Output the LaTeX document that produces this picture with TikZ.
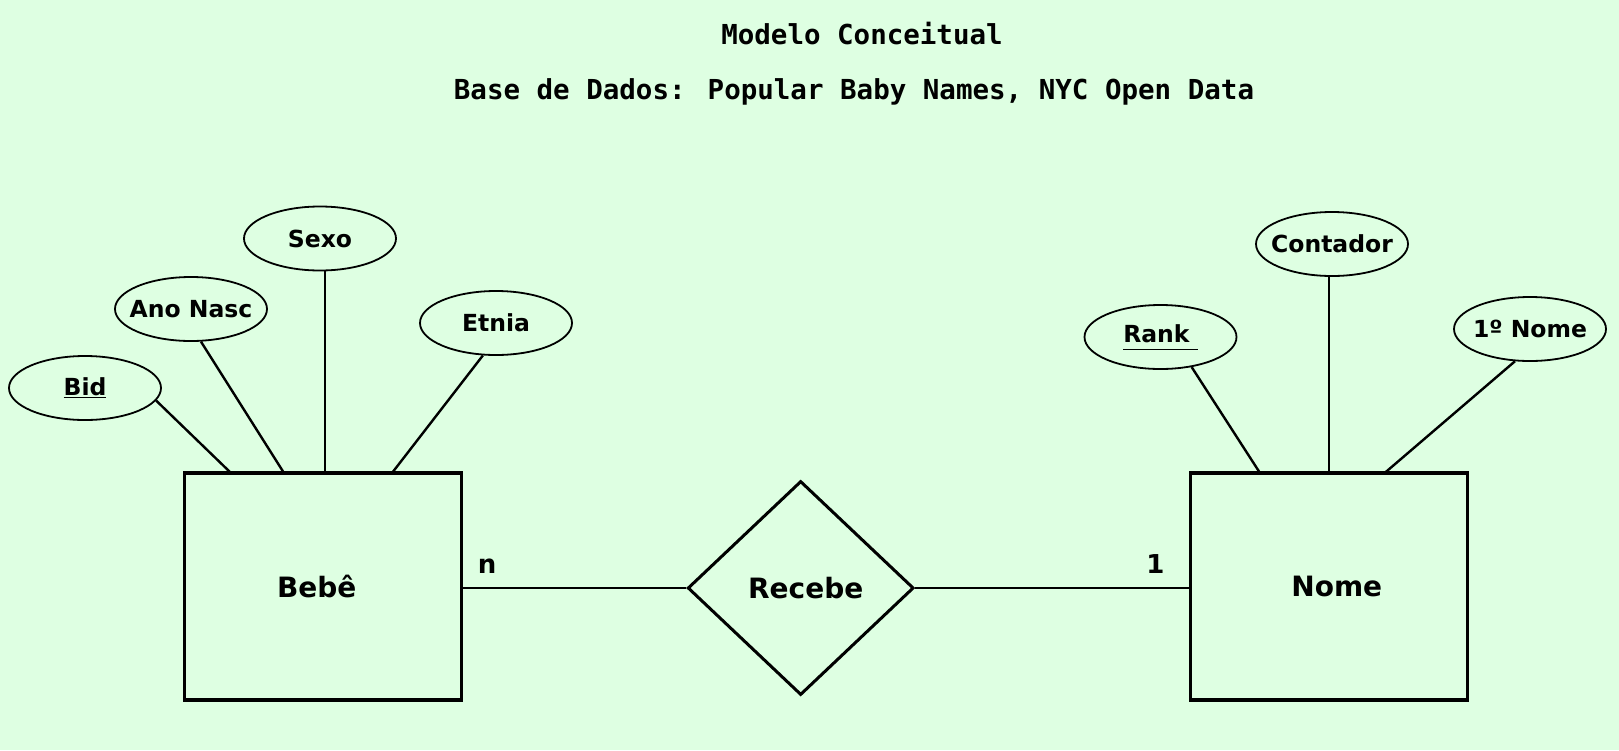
\documentclass[tikz,border=0pt]{standalone}
\usepackage{fontspec}
\setmainfont{DejaVu Sans}
\newfontfamily\titlefont{DejaVu Sans Mono}
\usetikzlibrary{shapes.geometric,calc}
\definecolor{bg}{RGB}{222,255,226}
\tikzset{
  attr/.style={ellipse, draw, line width=1.8pt, minimum width=152pt, minimum height=64pt, inner xsep=-14pt, inner ysep=0pt, font=\bfseries\fontsize{23.5}{28}\selectfont},
  entity/.style={rectangle, draw, line width=3.2pt, minimum width=277pt, minimum height=227pt, inner sep=0pt},
  elabel/.style={font=\bfseries\fontsize{28}{32}\selectfont},
  rel/.style={diamond, draw, line width=3pt, minimum width=226pt, minimum height=214pt, inner sep=0pt},
  conn/.style={line width=2.4pt},
  card/.style={font=\bfseries\fontsize{26}{30}\selectfont},
  ttl/.style={font=\titlefont\bfseries\fontsize{27.5}{32}\selectfont}
}
\begin{document}
\begin{tikzpicture}[x=1pt,y=-1pt]
\path[fill=bg, use as bounding box] (0,0) rectangle (1619,750);
% titles
\node[ttl] (t1) at (862,34) {Modelo Conceitual};
\node[ttl] (t2) at (854,92) {Base de Dados: Popular Baby Names, NYC Open Data};
% entities
\node[entity, label={[elabel, xshift=-6pt]center:Bebê}] (bebe) at (322.7,586.5) {};
\node[entity, label={[elabel, xshift=8pt]center:Nome}] (nome) at (1328.8,586.5) {};
\node[rel, label={[elabel, xshift=5pt]center:Recebe}] (recebe) at (800.7,588) {};
% attributes
\node[attr] (bid) at (85,388) {\underline{Bid}};
\node[attr] (ano) at (191,309) {Ano Nasc};
\node[attr] (sexo) at (320,238.5) {Sexo};
\node[attr] (etnia) at (496,323) {Etnia};
\node[attr] (rank) at (1160.5,337) {\underline{Rank\ \vphantom{g}}};
\node[attr] (cont) at (1332,244) {Contador};
\node[attr] (pnome) at (1530,329) {1º Nome};
% anchor points on entity tops
\coordinate (b1) at (231,473);
\coordinate (b2) at (284,473);
\coordinate (b3) at (325,473);
\coordinate (b4) at (392,473);
\coordinate (n1) at (1260,473);
\coordinate (n2) at (1329,473);
\coordinate (n3) at (1384.6,473);
% attribute connectors
\draw[conn] (bid.-10) -- (b1);
\draw[conn] (ano.-73) -- (b2);
\draw[conn] (b3 |- sexo.south) -- (b3);
\draw[conn] (etnia.-112) -- (b4);
\draw[conn] (rank.-44) -- (n1);
\draw[conn] (n2 |- cont.south) -- (n2);
\draw[conn] (pnome.-115) -- (n3);
% relationship connectors
\draw[conn] (recebe.west) -- (recebe.west -| bebe.east);
\draw[conn] (recebe.east) -- (recebe.east -| nome.west);
% cardinalities
\node[card] (cn) at (487,566) {n};
\node[card] (c1) at (1155.5,564) {1};
\end{tikzpicture}
\end{document}
